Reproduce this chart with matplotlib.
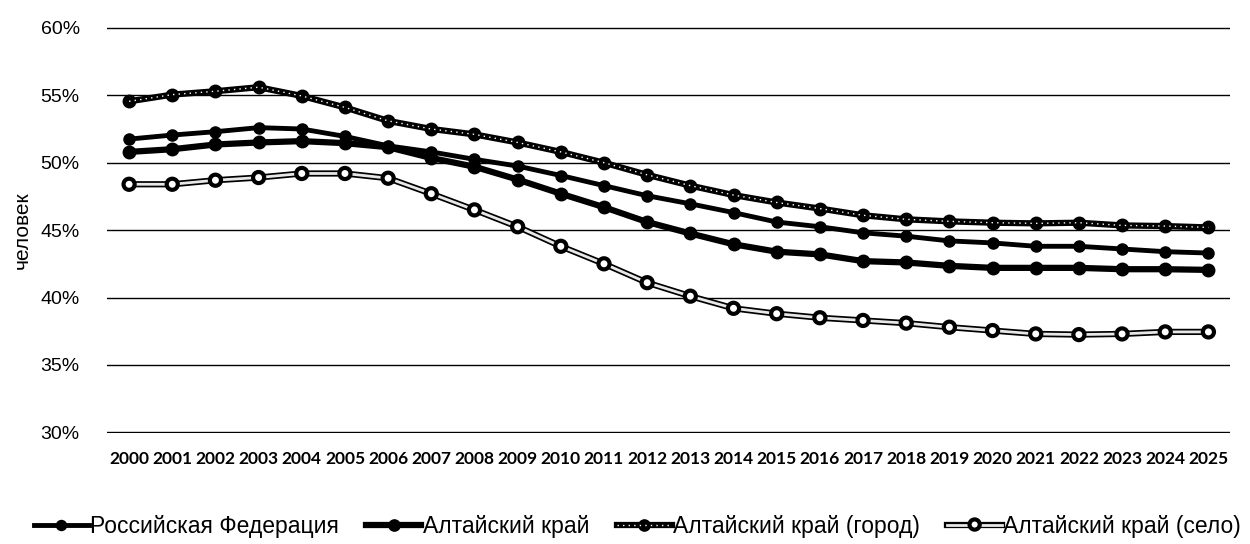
import matplotlib
matplotlib.use('Agg')
import numpy as np
from matplotlib import pyplot as plt
from matplotlib import patheffects as pe
from matplotlib.legend_handler import HandlerTuple
from matplotlib.ticker import PercentFormatter

years = [str(y) for y in range(2000, 2026)]

rf = [51.75, 52.05, 52.3, 52.6, 52.5, 51.95, 51.25, 50.8, 50.25, 49.75, 49.05, 48.3, 47.55,
      46.95, 46.3, 45.6, 45.25, 44.8, 44.55, 44.2, 44.05, 43.8, 43.8, 43.6, 43.4, 43.3]
altai = [50.8, 51.0, 51.35, 51.5, 51.6, 51.45, 51.15, 50.35, 49.7, 48.75, 47.7, 46.7, 45.6,
         44.75, 43.95, 43.4, 43.2, 42.7, 42.6, 42.35, 42.2, 42.2, 42.2, 42.1, 42.1, 42.05]
gorod = [54.55, 55.05, 55.3, 55.6, 54.95, 54.1, 53.1, 52.5, 52.1, 51.5, 50.8, 50.0, 49.1,
         48.3, 47.6, 47.05, 46.6, 46.1, 45.8, 45.65, 45.55, 45.5, 45.55, 45.35, 45.3, 45.2]
selo = [48.4, 48.4, 48.7, 48.9, 49.2, 49.2, 48.85, 47.7, 46.5, 45.25, 43.8, 42.5, 41.1,
        40.1, 39.2, 38.8, 38.5, 38.3, 38.1, 37.8, 37.55, 37.3, 37.25, 37.3, 37.45, 37.45]

labels = ['Российская Федерация', 'Алтайский край',
          'Алтайский край (город)', 'Алтайский край (село)']

x = np.arange(len(years))

fig = plt.figure(figsize=(12.5, 5.44), dpi=100)
ax = fig.add_axes([0.086, 0.204, 0.898, 0.746])

h_rf, = ax.plot(x, rf, color='black', lw=3.5, marker='o', ms=8, zorder=3)
h_al, = ax.plot(x, altai, color='black', lw=4.5, marker='o', ms=9, zorder=3)

# город: black line with white dotted core
h_g1, = ax.plot(x, gorod, color='black', lw=4.5, marker='o', ms=9, zorder=4)
h_g2, = ax.plot(x, gorod, color='white', lw=1, ls=(0, (1, 3)), zorder=5)

# село: light line outlined in black, open markers
stroke = [pe.Stroke(linewidth=4.5, foreground='black'), pe.Normal()]
h_s, = ax.plot(x, selo, color='#e8e8e8', lw=2, marker='o', ms=6.5, mfc='white',
               mec='black', mew=1.5, path_effects=stroke, zorder=4)

ax.set_xlim(-0.5, len(years) - 0.5)
ax.set_ylim(29.95, 60.05)
ax.set_yticks(np.arange(30, 61, 5))
ax.yaxis.set_major_formatter(PercentFormatter(decimals=0))
ax.set_xticks(x)
ax.set_xticklabels(years, fontfamily='Lato', fontweight='bold', fontsize=12.5)
ax.grid(axis='y', color='black', lw=1)
ax.set_axisbelow(True)
for s in ax.spines.values():
    s.set_visible(False)
ax.tick_params(length=0)
ax.tick_params(axis='x', pad=13)
ax.tick_params(axis='y', labelsize=14, pad=20)
for t in ax.get_yticklabels():
    t.set_fontfamily('Liberation Sans')
ax.set_ylabel('человек', fontsize=15, fontfamily='Liberation Sans', labelpad=6)

fig.legend([h_rf, h_al, (h_g1, h_g2), h_s], labels,
           handler_map={tuple: HandlerTuple(ndivide=1)},
           loc='center', bbox_to_anchor=(0.51, 0.033), ncol=4, frameon=False,
           borderpad=0, prop={'family': 'Liberation Sans', 'size': 16.5},
           handlelength=2.4, handletextpad=0.05, columnspacing=1.2, markerscale=0.9)

fig.savefig('out.png', dpi=100)
